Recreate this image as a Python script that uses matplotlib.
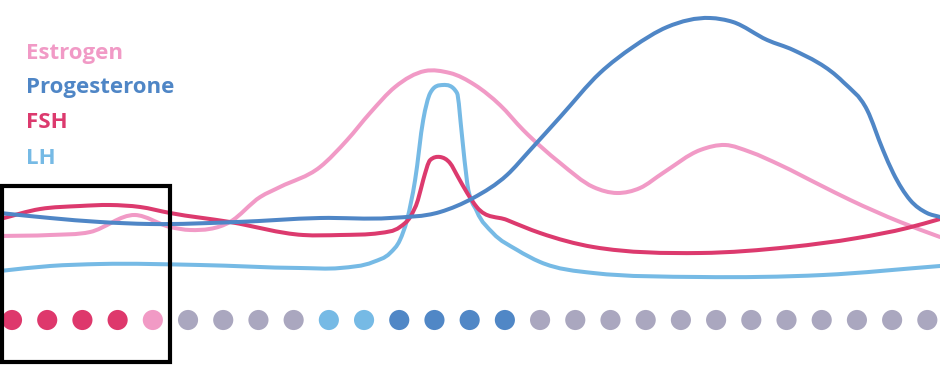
import numpy as np
import matplotlib
matplotlib.use("Agg")
import matplotlib.pyplot as plt
from matplotlib.path import Path
from matplotlib.patches import PathPatch, Rectangle

# hormone levels over the cycle (x = cycle day, y = relative level)
estrogen_day = [0.66, 2.08, 3.22, 4.49, 5.49, 6.06, 7.19, 8.05, 8.61, 9.75, 10.52, 11.17, 11.88,
                12.73, 13.44, 14.15, 14.86, 15.52, 16.57, 17.51, 18.19, 18.84, 19.49, 20.55,
                21.26, 21.97, 22.82, 23.95, 24.81, 26.23, 27.36]
estrogen_lvl = [84, 85, 88, 105, 93, 90, 98, 123, 133, 153, 180, 207, 233,
                249, 247, 235, 215, 190, 157, 133, 127, 132, 147, 170,
                175, 168, 155, 135, 120, 98, 83]

progesterone_day = [0.66, 2.08, 3.5, 4.92, 7.39, 9.75, 11.74, 13.16, 14.1, 15.06, 15.72, 16.57,
                    17.7, 18.64, 19.61, 20.83, 21.48, 22.45, 23.19, 24.61, 25.29, 25.74,
                    26.03, 26.51, 26.99, 27.36]
progesterone_lvl = [107, 102, 98, 96, 98, 102, 102, 108, 122, 145, 170, 203,
                    247, 273, 293, 302, 298, 280, 270, 238, 210, 170,
                    147, 120, 107, 103]

fsh_day = [0.66, 1.8, 2.93, 3.78, 4.64, 5.49, 7.19, 9.27, 10.32, 11.45, 12.02, 12.31, 12.53,
           12.68, 12.88, 13.16, 13.44, 13.67, 13.93, 14.2, 15.06, 16.0, 17.51, 20.55,
           23.1, 25.01, 26.43, 27.36]
fsh_lvl = [101, 111, 114, 115, 113, 107, 98, 85, 85, 87, 93, 103, 120,
           140, 160, 163, 157, 143, 127, 113, 100, 87, 73, 67,
           73, 82, 92, 101]

lh_day = [0.66, 2.08, 3.5, 6.34, 9.18, 10.32, 11.26, 11.74, 12.02, 12.22, 12.45, 12.68, 12.88,
          13.24, 13.64, 13.78, 13.93, 14.2, 14.66, 15.35, 16.0, 17.51, 20.55, 24.04, 27.36]
lh_lvl = [49, 54, 56, 55, 52, 52, 58, 67, 80, 100, 140, 200, 227,
          235, 227, 185, 137, 109, 87, 70, 58, 47, 43, 45, 54]

labels = ["Estrogen", "Progesterone", "FSH", "LH"]
colors = ["#F19AC6", "#4F86C6", "#DC3A6E", "#76BAE5"]

# phase dots, one per day
dot_days = list(range(1, 28))
dot_phase = ["m"] * 4 + ["e"] + ["g"] * 4 + ["l"] * 2 + ["p"] * 4 + ["g"] * 12
phase_color = {"m": "#DE386C", "e": "#F19AC5", "g": "#AAA7BF", "l": "#76BAE5", "p": "#5087C6"}


def smooth_path(x, y):
    """cubic hermite through the points, as bezier path"""
    x = np.asarray(x, float)
    y = np.asarray(y, float)
    h = np.diff(x)
    d = np.diff(y) / h
    m = np.zeros_like(y)
    m[0], m[-1] = d[0], d[-1]
    for i in range(1, len(x) - 1):
        m[i] = (h[i] * d[i - 1] + h[i - 1] * d[i]) / (h[i - 1] + h[i])
        if d[i - 1] * d[i] > 0:
            lim = 3 * min(abs(d[i - 1]), abs(d[i]))
            m[i] = np.sign(m[i]) * min(abs(m[i]), lim)
    verts = [(x[0], y[0])]
    codes = [Path.MOVETO]
    for i in range(len(x) - 1):
        verts += [(x[i] + h[i] / 3, y[i] + m[i] * h[i] / 3),
                  (x[i + 1] - h[i] / 3, y[i + 1] - m[i + 1] * h[i] / 3),
                  (x[i + 1], y[i + 1])]
        codes += [Path.CURVE4] * 3
    return Path(verts, codes)


fig = plt.figure(figsize=(9.4, 3.73), dpi=100)
ax = fig.add_axes([0, 0, 1, 1])
ax.set_xlim(0.659, 27.36)
ax.set_ylim(-53, 320)
ax.axis("off")

series = [(estrogen_day, estrogen_lvl), (progesterone_day, progesterone_lvl),
          (fsh_day, fsh_lvl), (lh_day, lh_lvl)]
order = [0, 3, 2, 1]
for k in order:
    xs, ys = series[k]
    ax.add_patch(PathPatch(smooth_path(xs, ys), fill=False, edgecolor=colors[k],
                           lw=2.9, capstyle="round", joinstyle="round"))

ax.scatter(dot_days, [0] * len(dot_days), s=210,
           c=[phase_color[p] for p in dot_phase], linewidths=0, zorder=3)

# box around the first days
ax.add_patch(Rectangle((0.716, -42), 5.49 - 0.716, 176, fill=False,
                       edgecolor="black", lw=3, zorder=4))

for i, (lab, col) in enumerate(zip(labels, colors)):
    fig.text(26 / 940, 1 - (53 + 35 * i) / 373, lab, color=col, fontsize=16,
             fontweight="bold", family="Open Sans", va="center", ha="left")

fig.savefig("out.png", dpi=100)
